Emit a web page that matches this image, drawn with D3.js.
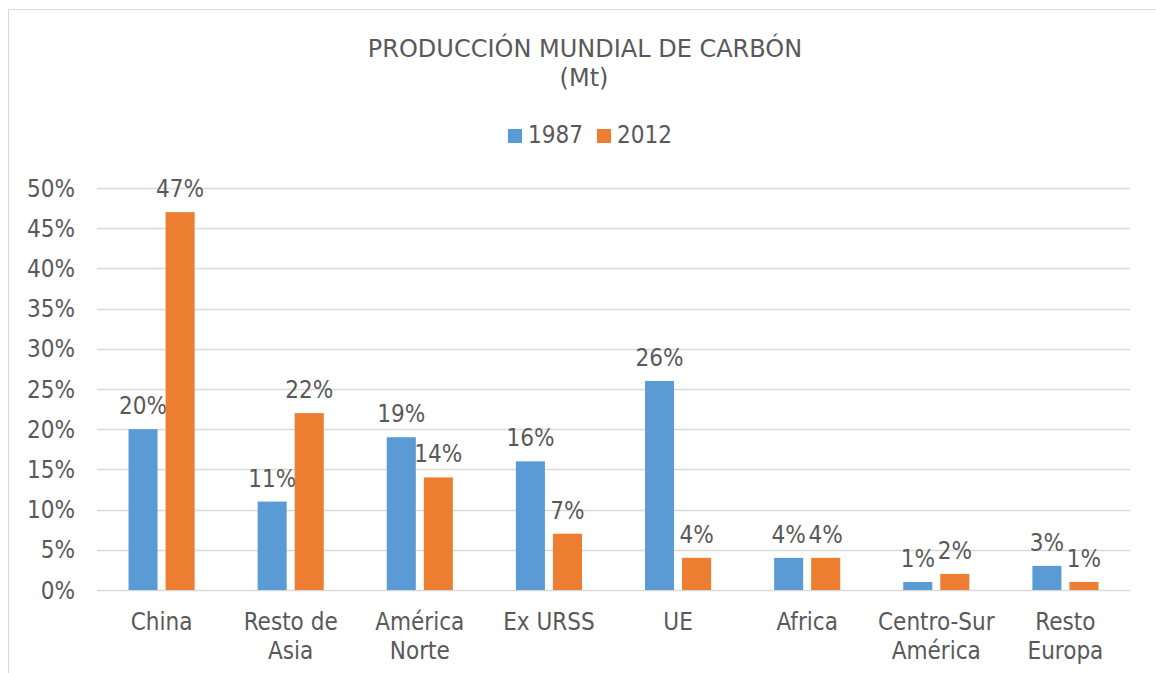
<!DOCTYPE html>
<html>
<head>
<meta charset="utf-8">
<script src="https://cdn.jsdelivr.net/npm/d3@7"></script>
<style>
  body { margin: 0; background: #fff; }
  svg text { font-family: Tahoma, 'DejaVu Sans Condensed', 'DejaVu Sans', sans-serif; fill: #595959; }
</style>
</head>
<body>
<div id="chart"></div>
<script>
// categories and values
const categories = ['China', 'Resto de Asia', 'América Norte', 'Ex URSS', 'UE', 'Africa', 'Centro-Sur América', 'Resto Europa'];
// two-line labels for the x axis
const categoryLines = [['China'], ['Resto de', 'Asia'], ['América', 'Norte'], ['Ex URSS'], ['UE'], ['Africa'], ['Centro-Sur', 'América'], ['Resto', 'Europa']];
const values1987 = [20, 11, 19, 16, 26, 4, 1, 3];
const values2012 = [47, 22, 14, 7, 4, 4, 2, 1];
const seriesNames = ['1987', '2012'];
const yTicks = [0, 5, 10, 15, 20, 25, 30, 35, 40, 45, 50];

const colors = ['#5B9BD5', '#ED7D31'];

const width = 1156;
const height = 673;
const plot = { left: 97, right: 1130, top: 188, bottom: 590 };
const fontSize = '24px';

const svg = d3.select('#chart')
  .append('svg')
    .attr('width', width)
    .attr('height', height);

// chart frame
svg.append('rect')
  .attr('x', 8.5)
  .attr('y', 9.5)
  .attr('width', 1160)
  .attr('height', 700)
  .attr('fill', '#fff')
  .attr('stroke', '#d9d9d9')
  .attr('stroke-width', 1);

// title, two lines
svg.append('text')
  .attr('x', 585)
  .attr('y', 57)
  .attr('text-anchor', 'middle')
  .style('font-size', fontSize)
  .style('font-family', "Tahoma, 'DejaVu Sans', sans-serif")
  .text('PRODUCCIÓN MUNDIAL DE CARBÓN');
svg.append('text')
  .attr('x', 584)
  .attr('y', 86)
  .attr('text-anchor', 'middle')
  .style('font-size', fontSize)
  .style('font-family', "Tahoma, 'DejaVu Sans', sans-serif")
  .text('(Mt)');

// scales
const x = d3.scaleBand()
  .domain(categories)
  .range([plot.left, plot.right]);
const barWidth = x.bandwidth() * 0.225;
const barGap = x.bandwidth() * 0.062;
const y = d3.scaleLinear()
  .domain([0, 50])
  .range([plot.bottom, plot.top]);

// gridlines
svg.append('g')
  .selectAll('line')
  .data(yTicks)
  .join('line')
    .attr('x1', plot.left)
    .attr('x2', plot.right)
    .attr('y1', d => Math.round(y(d)) + 0.5)
    .attr('y2', d => Math.round(y(d)) + 0.5)
    .attr('stroke', '#d9d9d9')
    .attr('stroke-width', 1.5);

// y axis labels
svg.append('g')
  .selectAll('text')
  .data(yTicks)
  .join('text')
    .attr('x', 75)
    .attr('y', d => y(d) + 8.5)
    .attr('text-anchor', 'end')
    .style('font-size', fontSize)
    .text(d => d + '%');

// bars and their value labels
const series = [values1987, values2012];
series.forEach((vals, s) => {
  const offset = s === 0 ? -barGap / 2 - barWidth : barGap / 2;
  const g = svg.append('g');
  g.selectAll('rect')
    .data(vals)
    .join('rect')
      .attr('x', (d, i) => x(categories[i]) + x.bandwidth() / 2 + offset)
      .attr('y', d => y(d))
      .attr('width', barWidth)
      .attr('height', d => y(0) - y(d))
      .attr('fill', colors[s]);
  g.selectAll('text')
    .data(vals)
    .join('text')
      .attr('x', (d, i) => x(categories[i]) + x.bandwidth() / 2 + offset + barWidth / 2)
      .attr('y', d => y(d) - 15)
      .attr('text-anchor', 'middle')
      .style('font-size', fontSize)
      .text(d => d + '%');
});

// x axis labels
const xLabels = svg.append('g')
  .selectAll('text')
  .data(categories)
  .join('text')
    .attr('x', d => x(d) + x.bandwidth() / 2)
    .attr('y', 630)
    .attr('text-anchor', 'middle')
    .style('font-size', fontSize);
xLabels.each(function (d, i) {
  d3.select(this).selectAll('tspan')
    .data(categoryLines[i])
    .join('tspan')
      .attr('x', x(d) + x.bandwidth() / 2)
      .attr('dy', (t, j) => j === 0 ? 0 : 29)
      .text(t => t);
});

// legend
const legend = svg.append('g');
const legendX = [508, 597];
seriesNames.forEach((name, i) => {
  legend.append('rect')
    .attr('x', legendX[i])
    .attr('y', 129)
    .attr('width', 14)
    .attr('height', 14)
    .attr('fill', colors[i]);
  legend.append('text')
    .attr('x', legendX[i] + 20)
    .attr('y', 143)
    .style('font-size', fontSize)
    .text(name);
});
</script>
</body>
</html>
